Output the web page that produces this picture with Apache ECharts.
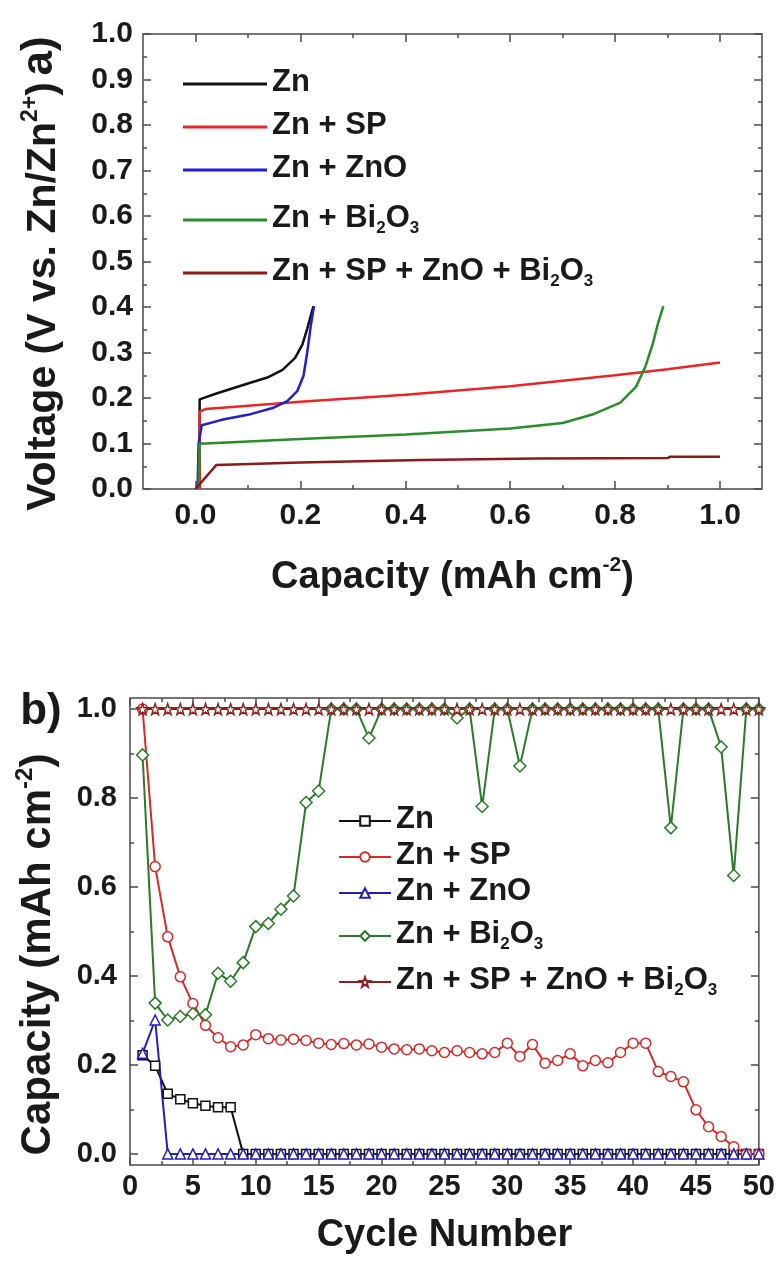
<!DOCTYPE html>
<html><head><meta charset="utf-8">
<script src="https://cdn.jsdelivr.net/npm/echarts@6/dist/echarts.min.js"></script>
<style>html,body{margin:0;padding:0;background:#fff}#c{width:778px;height:1266px}</style>
</head><body><div id="c"></div>
<script>
// ---------- Panel a: voltage profiles ----------
const seriesNames = ['Zn', 'Zn + SP', 'Zn + ZnO', 'Zn + Bi2O3', 'Zn + SP + ZnO + Bi2O3'];

const capZn   = [0.008, 0.008, 0.04, 0.10, 0.137, 0.166, 0.19, 0.204, 0.213, 0.221, 0.225];
const voltZn  = [0.0, 0.197, 0.21, 0.232, 0.245, 0.262, 0.288, 0.318, 0.352, 0.386, 0.402];
const capSP   = [0.008, 0.008, 0.02, 0.2, 0.4, 0.6, 0.8, 0.9, 1.0];
const voltSP  = [0.0, 0.17, 0.176, 0.192, 0.207, 0.226, 0.25, 0.263, 0.278];
const capZnO  = [0.004, 0.006, 0.012, 0.05, 0.10, 0.147, 0.175, 0.194, 0.206, 0.213, 0.22, 0.226];
const voltZnO = [0.0, 0.10, 0.14, 0.152, 0.163, 0.178, 0.193, 0.215, 0.249, 0.30, 0.36, 0.402];
const capBi   = [0.006, 0.008, 0.02, 0.2, 0.4, 0.6, 0.7, 0.76, 0.81, 0.84, 0.858, 0.872, 0.882, 0.892];
const voltBi  = [0.0, 0.10, 0.10, 0.11, 0.12, 0.133, 0.145, 0.165, 0.19, 0.225, 0.27, 0.32, 0.365, 0.402];
const capAll  = [0.0, 0.04, 0.2, 0.43, 0.65, 0.9, 0.905, 1.0];
const voltAll = [0.0, 0.053, 0.058, 0.064, 0.067, 0.068, 0.071, 0.071];

const aXTicks = [0, 0.2, 0.4, 0.6, 0.8, 1.0];
const aXMinor = [0.1, 0.3, 0.5, 0.7, 0.9];

// ---------- Panel b: capacity vs cycle ----------
const cycles = [1,2,3,4,5,6,7,8,9,10,11,12,13,14,15,16,17,18,19,20,21,22,23,24,25,
                26,27,28,29,30,31,32,33,34,35,36,37,38,39,40,41,42,43,44,45,46,47,48,49,50];
const cycZn  = [0.222,0.198,0.135,0.123,0.114,0.108,0.105,0.105,0,0,0,0,0,0,0,0,0,0,0,0,0,0,0,0,0,
                0,0,0,0,0,0,0,0,0,0,0,0,0,0,0,0,0,0,0,0,0,0,0,0,0];
const cycSP  = [1.0,0.646,0.488,0.398,0.338,0.289,0.261,0.241,0.245,0.268,0.259,0.256,0.258,0.255,0.249,
                0.246,0.248,0.245,0.247,0.240,0.236,0.234,0.236,0.232,0.228,0.232,0.228,0.225,0.228,0.249,
                0.219,0.246,0.204,0.210,0.225,0.198,0.210,0.205,0.228,0.249,0.249,0.185,0.174,0.162,0.099,
                0.061,0.039,0.016,0.0,0.0];
const cycZnO = [0.226,0.301,0,0,0,0,0,0,0,0,0,0,0,0,0,0,0,0,0,0,0,0,0,0,0,
                0,0,0,0,0,0,0,0,0,0,0,0,0,0,0,0,0,0,0,0,0,0,0,0,0];
const cycBi  = [0.897,0.339,0.301,0.309,0.315,0.313,0.406,0.388,0.43,0.511,0.518,0.55,0.58,0.79,0.816,
                1,1,1,0.935,1,1,1,1,1,1,0.98,1,0.781,1,1,0.872,1,1,1,1,1,1,1,1,1,1,1,0.733,1,1,1,
                0.915,0.626,1,1];
const cycAll = [1,1,1,1,1,1,1,1,1,1,1,1,1,1,1,1,1,1,1,1,1,1,1,1,1,
                1,1,1,1,1,1,1,1,1,1,1,1,1,1,1,1,1,1,1,1,1,1,1,1,1];
const bYTicks = [0, 0.2, 0.4, 0.6, 0.8, 1.0];
const bYMinor = [0.1, 0.3, 0.5, 0.7, 0.9];

const colorsA = ['#111111', '#e8262a', '#2020d0', '#2a8c2a', '#8b1a1a'];
const colorsB = ['#111111', '#d42a2a', '#2020b8', '#2a7a2a', '#8b2020'];
const STAR = 'path://M0,-10L2.35,-3.24L9.51,-3.09L3.8,1.24L5.88,8.09L0,4L-5.88,8.09L-3.8,1.24L-9.51,-3.09L-2.35,-3.24Z';
const symbolsB = ['rect', 'circle', 'triangle', 'diamond', STAR];
const symSizeB = [9, 10, 10, 12, 11];

const FONT = '"Liberation Sans", Arial, Helvetica, sans-serif';
const FRAME = '#4a4a4a';
const TXT = '#1a1a1a';

const zip = (xs, ys) => xs.map((x, i) => [x, ys[i]]);
const richLegend = {
  n: {fontFamily: FONT, fontWeight: 'bold', fontSize: 31, lineHeight: 34, color: TXT, verticalAlign: 'top'},
  s: {fontFamily: FONT, fontWeight: 'bold', fontSize: 17, lineHeight: 17, color: TXT, verticalAlign: 'bottom', padding: [24, 0, 0, 0]}
};
const legendFmt = name => {
  const t = name.replace(/^[ab]:/, '');
  return '{n|' + t.replace('Bi2O3', 'Bi}{s|2}{n|O}{s|3') + '}';
};
const richName = (size, supSize, supPad) => ({
  t: {fontFamily: FONT, fontWeight: 'bold', fontSize: size, lineHeight: size + 4, color: TXT, verticalAlign: 'bottom'},
  p: {fontFamily: FONT, fontWeight: 'bold', fontSize: supSize, lineHeight: supSize, color: TXT, verticalAlign: 'top', padding: [0, 0, supPad, 0]}
});

const tickStyle = {color: FRAME, width: 1.5};
function mk(base, extra) { return Object.assign({}, base, extra); }
const noLine = {show: false, onZero: false};

const aXBase = {gridIndex: 0, type: 'value', min: -0.1, max: 1.08, axisLine: noLine, splitLine: {show: false}};
const aYBase = {gridIndex: 0, type: 'value', min: 0, max: 1, interval: 0.1, axisLine: noLine, splitLine: {show: false}};
const bXBase = {gridIndex: 1, type: 'value', min: 0, max: 50, interval: 5, axisLine: noLine, splitLine: {show: false}};
const bYBase = {gridIndex: 1, type: 'value', min: -0.025, max: 1.025, axisLine: noLine, splitLine: {show: false}};

const option = {
  animation: false,
  backgroundColor: '#fff',
  grid: [
    {left: 143, top: 34, width: 619, height: 455, show: true, borderColor: FRAME, borderWidth: 1.5, backgroundColor: 'transparent'},
    {left: 130, top: 698, width: 630, height: 467, show: true, borderColor: FRAME, borderWidth: 1.5, backgroundColor: 'transparent'}
  ],
  xAxis: [
    mk(aXBase, {position: 'bottom',
      axisTick: {inside: true, length: 8, customValues: aXTicks, lineStyle: tickStyle},
      axisLabel: {customValues: aXTicks, formatter: v => v.toFixed(1), fontFamily: FONT, fontWeight: 'bold', fontSize: 30, color: TXT, margin: 12},
      name: '{t|Capacity (mAh cm}{p|-2}{t|)}', nameLocation: 'middle', nameGap: 66,
      nameTextStyle: {rich: richName(38, 21, 24)}}),
    mk(aXBase, {position: 'bottom', axisTick: {inside: true, length: 4, customValues: aXMinor, lineStyle: tickStyle}, axisLabel: {show: false}}),
    mk(aXBase, {position: 'top', axisTick: {inside: true, length: 8, customValues: aXTicks, lineStyle: tickStyle}, axisLabel: {show: false}}),
    mk(aXBase, {position: 'top', axisTick: {inside: true, length: 4, customValues: aXMinor, lineStyle: tickStyle}, axisLabel: {show: false}}),
    mk(bXBase, {position: 'bottom',
      axisTick: {inside: true, length: 8, lineStyle: tickStyle},
      minorTick: {show: true, splitNumber: 2, length: 4, lineStyle: tickStyle},
      axisLabel: {fontFamily: FONT, fontWeight: 'bold', fontSize: 29, color: TXT, margin: 7},
      name: 'Cycle Number', nameLocation: 'middle', nameGap: 52,
      nameTextStyle: {fontFamily: FONT, fontWeight: 'bold', fontSize: 38, color: TXT}}),
    mk(bXBase, {position: 'top', axisTick: {inside: true, length: 8, lineStyle: tickStyle},
      minorTick: {show: true, splitNumber: 2, length: 4, lineStyle: tickStyle}, axisLabel: {show: false}})
  ],
  yAxis: [
    mk(aYBase, {position: 'left',
      axisTick: {inside: true, length: 8, lineStyle: tickStyle},
      minorTick: {show: true, splitNumber: 2, length: 4, lineStyle: tickStyle},
      axisLabel: {formatter: v => v.toFixed(1), fontFamily: FONT, fontWeight: 'bold', fontSize: 30, color: TXT, margin: 10},
      name: '{t|Voltage (V vs. Zn/Zn}{p|2+}{t|)}', nameLocation: 'middle', nameGap: 79,
      nameTextStyle: {rich: richName(41, 23, 26), padding: [0, 70, 0, 0]}}),
    mk(aYBase, {position: 'right', axisTick: {inside: true, length: 8, lineStyle: tickStyle},
      minorTick: {show: true, splitNumber: 2, length: 4, lineStyle: tickStyle}, axisLabel: {show: false}}),
    mk(bYBase, {position: 'left',
      axisTick: {inside: true, length: 8, customValues: bYTicks, lineStyle: tickStyle},
      axisLabel: {customValues: bYTicks, formatter: v => v.toFixed(1), fontFamily: FONT, fontWeight: 'bold', fontSize: 29, color: TXT, margin: 13},
      name: '{t|Capacity (mAh cm}{p|-2}{t|)}', nameLocation: 'middle', nameGap: 63,
      nameTextStyle: {rich: richName(42, 24, 28), padding: [0, 46, 0, 0]}}),
    mk(bYBase, {position: 'left', axisTick: {inside: true, length: 4, customValues: bYMinor, lineStyle: tickStyle}, axisLabel: {show: false}}),
    mk(bYBase, {position: 'right', axisTick: {inside: true, length: 8, customValues: bYTicks, lineStyle: tickStyle}, axisLabel: {show: false}}),
    mk(bYBase, {position: 'right', axisTick: {inside: true, length: 4, customValues: bYMinor, lineStyle: tickStyle}, axisLabel: {show: false}})
  ],
  legend: [
    {orient: 'vertical', left: 178, top: 62, itemWidth: 84, itemHeight: 3, itemGap: 12, icon: 'rect',
     data: seriesNames.map(n => 'a:' + n), formatter: legendFmt,
     textStyle: {rich: richLegend}, selectedMode: false},
    {orient: 'vertical', left: 333, top: 799, itemWidth: 52, itemHeight: 12, itemGap: 5,
     data: seriesNames.map(n => 'b:' + n), formatter: legendFmt,
     textStyle: {rich: richLegend}, selectedMode: false}
  ],
  graphic: [
    {type: 'text', x: 40, y: 56, rotation: Math.PI / 2,
     style: {text: 'a)', fontFamily: FONT, fontWeight: 'bold', fontSize: 44, fill: TXT, align: 'center', verticalAlign: 'middle'}},
    {type: 'text', x: 41, y: 712,
     style: {text: 'b)', fontFamily: FONT, fontWeight: 'bold', fontSize: 44, fill: TXT, align: 'center', verticalAlign: 'middle'}}
  ],
  series: []
};

const aData = [zip(capZn, voltZn), zip(capSP, voltSP), zip(capZnO, voltZnO), zip(capBi, voltBi), zip(capAll, voltAll)];
aData.forEach((d, i) => option.series.push({
  name: 'a:' + seriesNames[i], type: 'line', xAxisIndex: 0, yAxisIndex: 0, data: d,
  symbol: 'none', lineStyle: {color: colorsA[i], width: 2.5}, itemStyle: {color: colorsA[i]},
  emphasis: {disabled: true}, z: 3
}));
const bVals = [cycZn, cycSP, cycZnO, cycBi, cycAll];
bVals.forEach((v, i) => option.series.push({
  name: 'b:' + seriesNames[i], type: 'line', xAxisIndex: 4, yAxisIndex: 2, data: zip(cycles, v),
  symbol: symbolsB[i], symbolSize: symSizeB[i], showAllSymbol: true,
  lineStyle: {color: colorsB[i], width: 2},
  itemStyle: {color: '#ffffff', borderColor: colorsB[i], borderWidth: 1.5},
  emphasis: {disabled: true}, z: 3
}));

const chart = echarts.init(document.getElementById('c'), null, {renderer: 'canvas'});
chart.setOption(option);
</script>
</body></html>
